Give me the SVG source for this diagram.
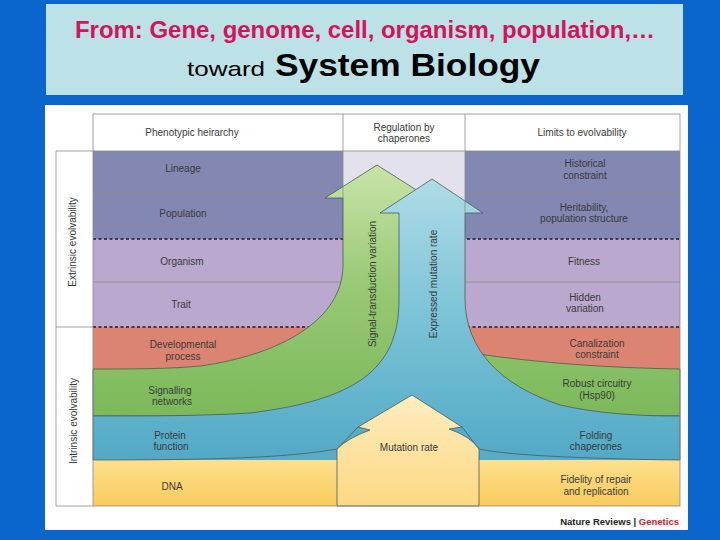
<svg xmlns="http://www.w3.org/2000/svg" width="720" height="540" viewBox="0 0 720 540">
<defs>
<style>
.t{font-family:"Liberation Sans",Arial,sans-serif;font-size:10px;fill:#3a3a3a;text-anchor:middle}
.ln{stroke:#8a8a8a;stroke-width:0.8;fill:none}
.dot{stroke:#1a1a2a;stroke-width:1.6;stroke-dasharray:3,2.5;fill:none}
.edge{stroke:#4d5c5a;stroke-width:0.8}
</style>
<linearGradient id="dna" x1="0" y1="0" x2="0" y2="1">
<stop offset="0" stop-color="#FDE08F"/><stop offset="1" stop-color="#F9CB5C"/>
</linearGradient>
<linearGradient id="mut" x1="0" y1="0" x2="0" y2="1">
<stop offset="0" stop-color="#FEEDC0"/><stop offset="1" stop-color="#FCD882"/>
</linearGradient>
<linearGradient id="grn" x1="0" y1="0" x2="0" y2="1">
<stop offset="0" stop-color="#C8E4A8"/><stop offset="0.5" stop-color="#97C873"/><stop offset="1" stop-color="#7CB95B"/>
</linearGradient>
<linearGradient id="blu" x1="0" y1="0" x2="0" y2="1">
<stop offset="0" stop-color="#AEDCE6"/><stop offset="0.5" stop-color="#7AC2D6"/><stop offset="1" stop-color="#52A9C6"/>
</linearGradient>
</defs>
<rect width="720" height="540" fill="#0A66CC"/>
<g id="title">
<rect x="46" y="4" width="637" height="91" fill="#BCE1E6"/>
<text x="365" y="38" font-family="'Liberation Sans',Arial,sans-serif" font-size="23" font-weight="bold" fill="#D4145A" text-anchor="middle" textLength="580" lengthAdjust="spacingAndGlyphs">From: Gene, genome, cell, organism, population,…</text>
<text x="187" y="76" font-family="'Liberation Sans',Arial,sans-serif" font-size="21" fill="#000" textLength="78" lengthAdjust="spacingAndGlyphs">toward</text>
<text x="275" y="76" font-family="'Liberation Sans',Arial,sans-serif" font-size="32" font-weight="bold" fill="#000" textLength="265" lengthAdjust="spacingAndGlyphs">System Biology</text>
</g>
<rect x="45" y="105" width="643" height="425" fill="#fff"/>
<g id="rows">
<rect x="93" y="114" width="587" height="37" fill="#fff"/>
<rect x="93" y="151" width="587" height="88" fill="#8388B2"/>
<rect x="93" y="239" width="587" height="88" fill="#BAA8CF"/>
<rect x="93" y="327" width="587" height="42" fill="#DC8472"/>
<rect x="93" y="369" width="587" height="47" fill="#80BB5E"/>
<rect x="93" y="416" width="587" height="44" fill="#56ADC8"/>
<rect x="93" y="460" width="587" height="46" fill="url(#dna)"/>
<rect x="343" y="151" width="122" height="140" fill="#E2E1EC"/>
<line class="ln" x1="93" y1="193" x2="343" y2="193"/>
<line class="ln" x1="465" y1="193" x2="680" y2="193"/>
<line class="ln" x1="93" y1="282" x2="680" y2="282"/>
<line class="dot" x1="93" y1="239" x2="680" y2="239"/>
<line class="dot" x1="93" y1="327" x2="680" y2="327"/>
</g>
<g id="connectors">
<path id="signal" class="edge" fill="url(#grn)" d="M377,165 L429,198 L411,198 V310 C411,345 440,352 478,354 C540,363 610,368 680,369 V416 H93 V369 C130,369 170,369 200,366 C280,355 343,320 343,265 V198 L325,198 Z"/>
<path id="express" class="edge" fill="url(#blu)" d="M432,179 L483,213 L465,213 V300 C466,350 500,385 560,405 C600,414 640,416 680,416 V460 C600,459 510,456 479,449 L462,427 L358,427 L337,449 C290,457 230,460 93,460 V416 C150,416 200,416 250,413 C355,400 399,370 399,300 V213 L380,213 Z"/>
<path id="mutation" class="edge" fill="url(#mut)" d="M412,395 L462,427 L449,429 Q470,436 479,449 V506 H337 V449 Q348,438 370,430 L358,427 Z"/>
</g>
<g id="frame">
<rect x="93" y="114" width="587" height="392" class="ln"/>
<line class="ln" x1="343" y1="114" x2="343" y2="198"/>
<line class="ln" x1="465" y1="114" x2="465" y2="213"/>
<line class="ln" x1="93" y1="151" x2="680" y2="151"/>
<path class="ln" d="M93,151 H56 V506 H93 M56,327 H93"/>
</g>
<g id="labels">
<text class="t" x="192" y="136">Phenotypic heirarchy</text>
<text class="t" x="404" y="131">Regulation by</text>
<text class="t" x="404" y="142">chaperones</text>
<text class="t" x="582" y="136">Limits to evolvability</text>
<text class="t" x="183" y="172">Lineage</text>
<text class="t" x="183" y="217">Population</text>
<text class="t" x="182" y="265">Organism</text>
<text class="t" x="181" y="308">Trait</text>
<text class="t" x="183" y="348">Developmental</text>
<text class="t" x="183" y="360">process</text>
<text class="t" x="170" y="394">Signalling</text>
<text class="t" x="172" y="405">networks</text>
<text class="t" x="170" y="439">Protein</text>
<text class="t" x="171" y="450">function</text>
<text class="t" x="172" y="490">DNA</text>
<text class="t" x="585" y="167">Historical</text>
<text class="t" x="585" y="179">constraint</text>
<text class="t" x="584" y="211">Heritability,</text>
<text class="t" x="584" y="222">population structure</text>
<text class="t" x="584" y="265">Fitness</text>
<text class="t" x="585" y="301">Hidden</text>
<text class="t" x="585" y="312">variation</text>
<text class="t" x="597" y="347">Canalization</text>
<text class="t" x="597" y="358">constraint</text>
<text class="t" x="597" y="387">Robust circuitry</text>
<text class="t" x="597" y="399">(Hsp90)</text>
<text class="t" x="596" y="439">Folding</text>
<text class="t" x="596" y="450">chaperones</text>
<text class="t" x="596" y="483">Fidelity of repair</text>
<text class="t" x="596" y="495">and replication</text>
<text class="t" x="409" y="451">Mutation rate</text>
<text class="t" transform="translate(376,284) rotate(-90)">Signal-transduction variation</text>
<text class="t" transform="translate(437,284) rotate(-90)">Expressed mutation rate</text>
<text class="t" transform="translate(76,242) rotate(-90)">Extrinsic evolvability</text>
<text class="t" transform="translate(77,421) rotate(-90)">Intrinsic evolvability</text>
<text x="679" y="525" font-family="'Liberation Sans',Arial,sans-serif" font-size="9.5" font-weight="bold" text-anchor="end" fill="#222">Nature Reviews | <tspan fill="#D3202F">Genetics</tspan></text>
</g>
</svg>
